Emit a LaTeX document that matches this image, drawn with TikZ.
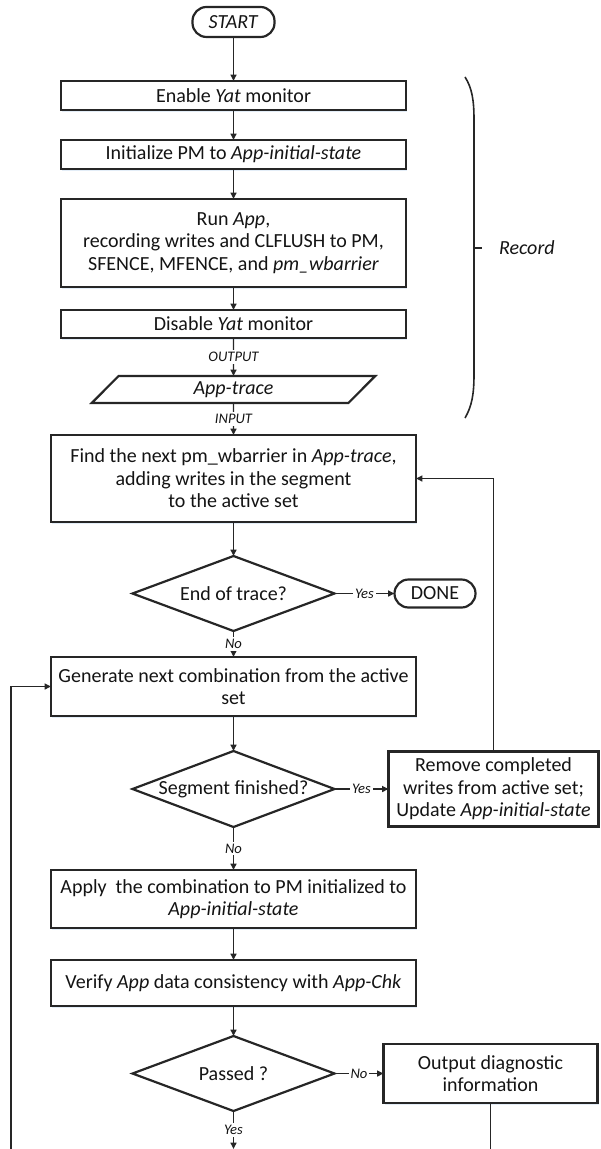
\documentclass[tikz,border=0pt]{standalone}
\usepackage{fontspec}
\setmainfont{Carlito}
\usetikzlibrary{shapes,arrows.meta,positioning,shadows}

\begin{document}
\begin{tikzpicture}[
      font=\fontsize{10}{11.2}\selectfont,
      every node/.style={text=black!92, outer sep=0pt},
      process/.style={
        rectangle,
        draw=black!85, line width=1.1pt,
        fill=white,
        minimum width=182.5pt,
        inner sep=1pt,
        align=center,
        drop shadow={shadow xshift=0.5pt, shadow yshift=-0.8pt, fill=cyan!50!blue, opacity=0.12}
      },
      record box/.style={
        process, minimum width=172.5pt
      },
      decision/.style={
        diamond, aspect=2.7,
        draw=black!85, line width=1.1pt,
        inner sep=0pt,
        minimum width=101pt, minimum height=37.5pt
      },
      terminal/.style={
        rectangle, rounded corners=7pt,
        draw=black!85, line width=1.1pt,
        minimum height=15pt, inner sep=1pt
      },
      data/.style={
        trapezium, trapezium left angle=64, trapezium right angle=116,
        trapezium stretches=true,
        draw=black!85, line width=1.1pt,
        minimum width=142pt, minimum height=13.5pt, inner sep=1pt
      },
      tag/.style={
        fill=white, inner sep=1pt,
        font=\fontsize{7.3}{8}\selectfont\itshape
      },
      line/.style={
        draw=black!85, line width=0.7pt
      },
      arrow/.style={
        line, -{Triangle[length=3.2pt,width=3pt]}
      }
    ]
      \useasboundingbox (0,0) rectangle (300pt,-574.5pt);

      % record phase
      \node[terminal, minimum width=41pt] (start) at (116.75pt,-11pt) {\textit{START}};
      \node[record box, minimum height=14.5pt, below=22pt of start] (enable) {Enable \textit{Yat} monitor};
      \node[record box, minimum height=14.5pt, below=15pt of enable] (init) {Initialize PM to \textit{App-initial-state}};
      \node[record box, minimum height=44pt, below=15pt of init] (run) {Run \textit{App},\\recording writes and CLFLUSH to PM,\\SFENCE, MFENCE, and \textit{pm\_wbarrier}};
      \node[record box, minimum height=14pt, below=11.5pt of run] (disable) {Disable \textit{Yat} monitor};
      \node[data, below=19pt of disable] (trace) {\textit{App-trace}};

      % check phase
      \node[process, minimum height=43.5pt, below=16pt of trace] (find) {Find the next pm\_wbarrier in \textit{App-trace},\\adding writes in the segment\\to the active set};
      \node[decision, below=17pt of find] (endq) {End of trace?};
      \node[terminal, minimum width=40.5pt, minimum height=14pt, right=30pt of endq] (done) {DONE};
      \node[process, minimum height=29.5pt, below=13pt of endq] (gen) {Generate next combination from the active\\set};
      \node[decision, minimum height=38pt, below=17.5pt of gen] (segq) {Segment finished?};
      \node[process, minimum width=105pt, minimum height=37.5pt, right=27pt of segq] (remove) {Remove completed\\writes from active set;\\Update \textit{App-initial-state}};
      \node[process, minimum height=29pt, below=21.5pt of segq] (apply) {Apply\ \ the combination to PM initialized to\\\textit{App-initial-state}};
      \node[process, minimum height=23pt, below=16pt of apply] (verify) {Verify \textit{App} data consistency with \textit{App-Chk}};
      \node[decision, below=15pt of verify] (passq) {Passed ?};
      \node[process, minimum width=107pt, minimum height=29.5pt, right=24.5pt of passq] (output) {Output diagnostic\\information};

      \coordinate (loopbot) at (5.5pt,-574.5pt);

      \draw[arrow] (start) -- (enable);
      \draw[arrow] (enable) -- (init);
      \draw[arrow] (init) -- (run);
      \draw[arrow] (run) -- (disable);
      \draw[arrow] (disable) -- node[tag] {OUTPUT} (trace);
      \draw[arrow] (trace) -- node[tag] {INPUT} (find);
      \draw[arrow] (find) -- (endq);
      \draw[arrow] (endq) -- node[tag] {Yes} (done);
      \draw[arrow] (endq) -- node[tag] {No} (gen);
      \draw[arrow] (gen) -- (segq);
      \draw[arrow] (segq) -- node[tag] {Yes} (remove);
      \draw[arrow] (remove.north) |- (find.east);
      \draw[arrow] (segq) -- node[tag] {No} (apply);
      \draw[arrow] (apply) -- (verify);
      \draw[arrow] (verify) -- (passq);
      \draw[arrow] (passq) -- node[tag] {No} (output);
      \draw[arrow] (passq) -- node[tag] {Yes} (passq |- loopbot);
      \draw[line] (output) -- (output |- loopbot);
      \draw[arrow] (loopbot) |- (gen);

      % brace round the record steps
      \draw[line, line width=0.8pt] (232.5pt,-38.5pt) .. controls (236pt,-44pt) and (237pt,-50pt) .. (237pt,-60pt)
        -- (237pt,-187pt) .. controls (237pt,-197pt) and (236pt,-203pt) .. (232.5pt,-209pt);
      \draw[line, line width=0.8pt] (237pt,-124pt) -- (241pt,-124pt);
      \node[anchor=west, inner sep=0pt, font=\fontsize{10}{11.2}\selectfont\itshape] (record) at (249.5pt,-124pt) {Record};
    \end{tikzpicture}
\end{document}
